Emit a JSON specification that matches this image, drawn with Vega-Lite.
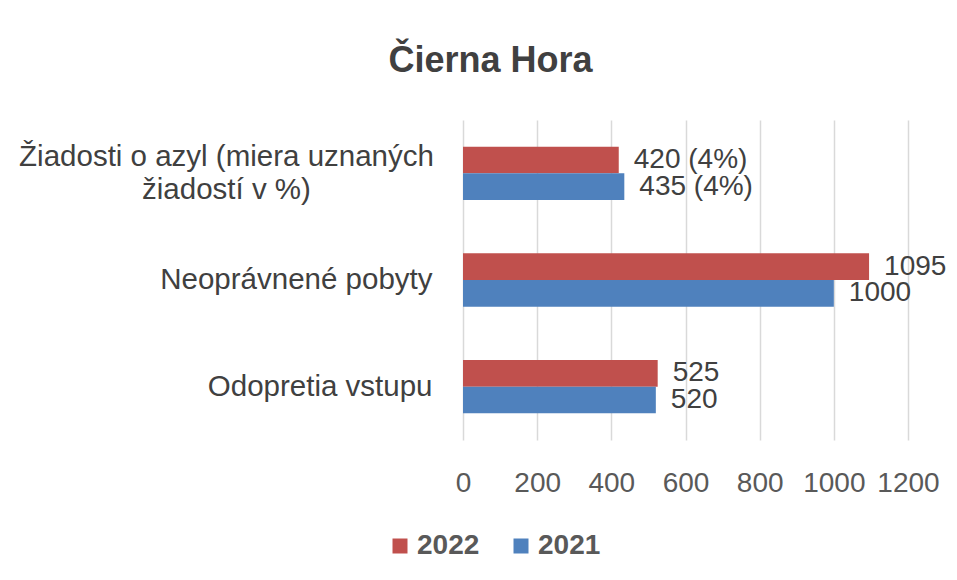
{
  "$schema": "https://vega.github.io/schema/vega-lite/v6.json",
  "width": 445,
  "height": 320,
  "autosize": {"type": "none"},
  "padding": {"left": 463, "top": 120, "right": 49, "bottom": 140},
  "background": "white",
  "title": {
    "text": "Čierna Hora",
    "fontSize": 36,
    "fontWeight": "bold",
    "font": "Liberation Sans",
    "color": "#404040",
    "anchor": "middle",
    "dx": -195,
    "offset": 40
  },
  "data": {
    "values": [
      {"kategoria": "Žiadosti o azyl (miera uznaných|žiadostí v %)", "rok": "2022", "hodnota": 420, "popis": "420 (4%)"},
      {"kategoria": "Žiadosti o azyl (miera uznaných|žiadostí v %)", "rok": "2021", "hodnota": 435, "popis": "435 (4%)"},
      {"kategoria": "Neoprávnené pobyty", "rok": "2022", "hodnota": 1095, "popis": "1095"},
      {"kategoria": "Neoprávnené pobyty", "rok": "2021", "hodnota": 1000, "popis": "1000"},
      {"kategoria": "Odopretia vstupu", "rok": "2022", "hodnota": 525, "popis": "525"},
      {"kategoria": "Odopretia vstupu", "rok": "2021", "hodnota": 520, "popis": "520"}
    ]
  },
  "encoding": {
    "y": {
      "field": "kategoria",
      "type": "nominal",
      "sort": ["Žiadosti o azyl (miera uznaných|žiadostí v %)", "Neoprávnené pobyty", "Odopretia vstupu"],
      "scale": {"paddingInner": 0.5, "paddingOuter": 0.25},
      "axis": {
        "title": null,
        "domain": false,
        "ticks": false,
        "labelPadding": {"condition": {"test": "indexof(datum.value, '|') >= 0", "value": 237}, "value": 31},
        "labelAlign": {"condition": {"test": "indexof(datum.value, '|') >= 0", "value": "center"}, "value": "right"},
        "labelFontSize": 29.5,
        "labelFont": "Liberation Sans",
        "labelColor": "#404040",
        "labelLineHeight": 33,
        "labelLimit": 500,
        "labelOffset": {"condition": {"test": "indexof(datum.value, '|') >= 0", "value": -16}, "value": 0},
        "labelExpr": "split(datum.label, '|')"
      }
    },
    "yOffset": {
      "field": "rok",
      "type": "nominal",
      "sort": ["2022", "2021"],
      "scale": {"paddingInner": 0, "paddingOuter": 0}
    },
    "x": {
      "field": "hodnota",
      "type": "quantitative",
      "scale": {"domain": [0, 1200], "nice": false},
      "axis": {
        "title": null,
        "values": [0, 200, 400, 600, 800, 1000, 1200],
        "format": "d",
        "domain": false,
        "ticks": false,
        "grid": true,
        "gridColor": "#d9d9d9",
        "gridWidth": 1.5,
        "labelPadding": 29,
        "labelFontSize": 28,
        "labelFont": "Liberation Sans",
        "labelColor": "#595959",
        "labelFlush": false
      }
    }
  },
  "layer": [
    {
      "mark": {"type": "bar"},
      "encoding": {
        "color": {
          "field": "rok",
          "type": "nominal",
          "scale": {"domain": ["2022", "2021"], "range": ["#C0504D", "#4F81BD"]},
          "legend": {
            "title": null,
            "orient": "none",
            "direction": "horizontal",
            "legendX": -77,
            "legendY": 412,
            "padding": 0,
            "symbolType": "square",
            "symbolSize": 225,
            "symbolStrokeWidth": 0,
            "symbolOpacity": 1,
            "labelFontSize": 28,
            "labelFont": "Liberation Sans",
            "labelFontWeight": "bold",
            "labelColor": "#595959",
            "labelOffset": 3,
            "columnPadding": 27
          }
        }
      }
    },
    {
      "mark": {
        "type": "text",
        "align": "left",
        "baseline": "middle",
        "dx": 15,
        "fontSize": 28,
        "font": "Liberation Sans",
        "color": "#404040"
      },
      "encoding": {
        "text": {"field": "popis", "type": "nominal"}
      }
    }
  ],
  "config": {
    "view": {"stroke": null}
  }
}
